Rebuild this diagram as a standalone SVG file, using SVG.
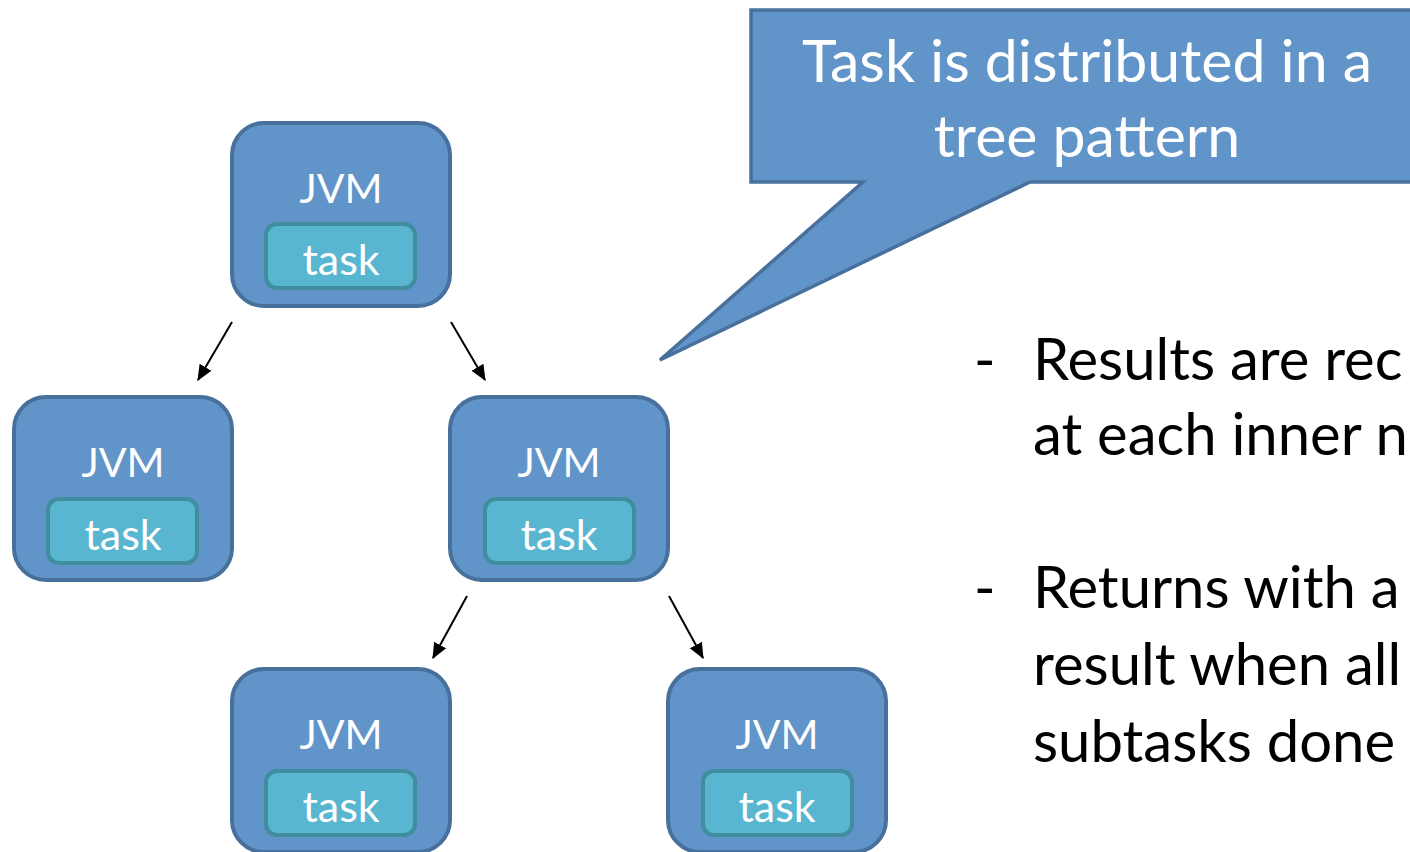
<svg xmlns="http://www.w3.org/2000/svg" width="1410" height="852" viewBox="0 0 1410 852">
<defs>
<style>
.jvm{fill:#6194c8;stroke:#48709c;stroke-width:4}
.task{fill:#59b6d0;stroke:#3f8d9e;stroke-width:4}
.wt{fill:#ffffff;font-family:Lato,"Liberation Sans",sans-serif;text-anchor:middle}
.lbl{font-size:41px}
.tl{font-size:43px}
.ct{font-size:59px}
.bt{fill:#000000;font-family:Lato,"Liberation Sans",sans-serif;font-size:58px}
</style>
<marker id="ah2" viewBox="0 0 14 14" refX="13" refY="7" markerWidth="16" markerHeight="16" markerUnits="userSpaceOnUse" orient="auto">
<path d="M0,1 L14,7 L0,13 z" fill="#000000"/>
</marker>
</defs>
<rect width="1410" height="852" fill="#ffffff"/>
<g id="callout">
<path d="M751,10 L1414,10 L1414,182 L1030,182 L660,360 L863,182 L751,182 Z" fill="#6194c8" stroke="#48709c" stroke-width="3.5" stroke-linejoin="miter"/>
<text class="wt ct" x="1087" y="82">Task is distributed in a</text>
<text class="wt ct" x="1087" y="157">tree pattern</text>
</g>
<g id="connectors">
<line x1="232" y1="322" x2="198" y2="380" stroke="#000" stroke-width="2" marker-end="url(#ah2)"/>
<line x1="451" y1="322" x2="485" y2="380" stroke="#000" stroke-width="2" marker-end="url(#ah2)"/>
<line x1="467" y1="596" x2="433" y2="658" stroke="#000" stroke-width="2" marker-end="url(#ah2)"/>
<line x1="669" y1="596" x2="703" y2="658" stroke="#000" stroke-width="2" marker-end="url(#ah2)"/>
</g>
<g id="node-top">
<rect class="jvm" x="232" y="123" width="218" height="183" rx="32"/>
<text class="wt lbl" x="341" y="203">JVM</text>
<rect class="task" x="266" y="224" width="149" height="64" rx="11"/>
<text class="wt tl" x="341" y="275">task</text>
</g>
<g id="node-left">
<rect class="jvm" x="14" y="397" width="218" height="183" rx="32"/>
<text class="wt lbl" x="123" y="477">JVM</text>
<rect class="task" x="48" y="499" width="149" height="64" rx="11"/>
<text class="wt tl" x="123" y="550">task</text>
</g>
<g id="node-mid">
<rect class="jvm" x="450" y="397" width="218" height="183" rx="32"/>
<text class="wt lbl" x="559" y="477">JVM</text>
<rect class="task" x="485" y="499" width="149" height="64" rx="11"/>
<text class="wt tl" x="559" y="550">task</text>
</g>
<g id="node-bl">
<rect class="jvm" x="232" y="669" width="218" height="183" rx="32"/>
<text class="wt lbl" x="341" y="749">JVM</text>
<rect class="task" x="266" y="771" width="149" height="64" rx="11"/>
<text class="wt tl" x="341" y="822">task</text>
</g>
<g id="node-br">
<rect class="jvm" x="668" y="669" width="218" height="183" rx="32"/>
<text class="wt lbl" x="777" y="749">JVM</text>
<rect class="task" x="703" y="771" width="149" height="64" rx="11"/>
<text class="wt tl" x="777" y="822">task</text>
</g>
<g id="notes">
<text class="bt" x="974" y="380">-</text>
<text class="bt" x="1033" y="380">Results are rec</text>
<text class="bt" x="1033" y="455">at each inner n</text>
<text class="bt" x="974" y="608">-</text>
<text class="bt" x="1033" y="608">Returns with a</text>
<text class="bt" x="1033" y="685">result when all</text>
<text class="bt" x="1033" y="762">subtasks done</text>
</g>
</svg>
